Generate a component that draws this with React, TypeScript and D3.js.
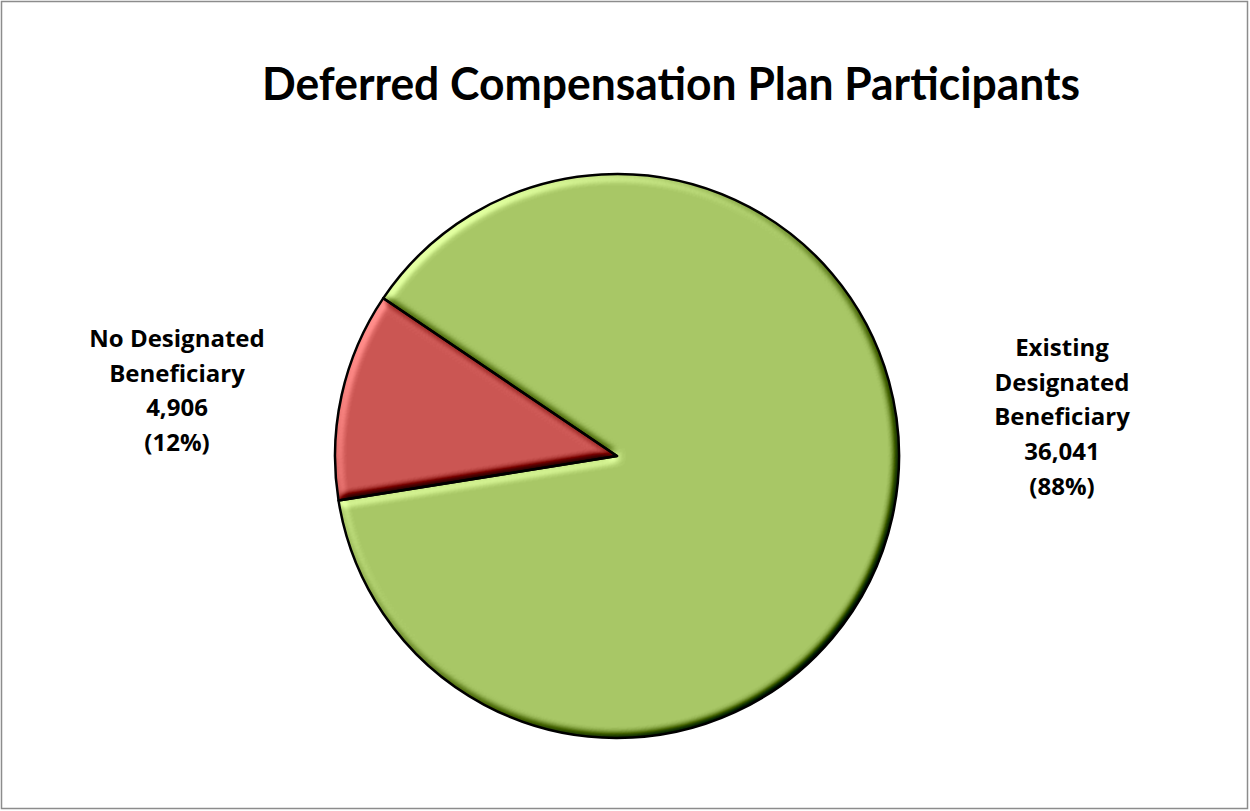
import React from "react";
import * as d3 from "d3";

const title = "Deferred Compensation Plan Participants";
const categories = ["No Designated Beneficiary", "Existing Designated Beneficiary"];
const labelLines = [["No Designated", "Beneficiary"], ["Existing", "Designated", "Beneficiary"]];
const values = [4906, 36041];
const colors = ["#CB5653", "#A8C766"];

const W = 1250;
const H = 811;
const CX = 617;
const CY = 456;
const R = 282;
const START_DEG = 260.9;

export default function App() {
  const total = d3.sum(values);
  const start = (START_DEG * Math.PI) / 180;
  const pie = d3
    .pie<number>()
    .sort(null)
    .value((d) => d)
    .startAngle(start)
    .endAngle(start + 2 * Math.PI);
  const arcs = pie(values);
  const arc = d3.arc<d3.PieArcDatum<number>>().innerRadius(0).outerRadius(R);
  const fmt = d3.format(",");

  const labelPos = [
    { x: 177, y: 347 },
    { x: 1062, y: 356 },
  ];
  const lineH = 34.7;

  return (
    <div style={{ position: "absolute", left: 0, top: 0 }}>
      <svg width={W} height={H} style={{ display: "block" }}>
        <defs>
          <filter id="bevel" x="-5%" y="-5%" width="110%" height="110%" colorInterpolationFilters="sRGB">
            <feGaussianBlur in="SourceAlpha" stdDeviation="4" result="blur" />
            <feDiffuseLighting in="blur" surfaceScale="6" diffuseConstant="1" lightingColor="#ffffff" result="light">
              <feDistantLight azimuth={225} elevation={50} />
            </feDiffuseLighting>
            <feComposite in="SourceGraphic" in2="light" operator="arithmetic" k1={0} k2={1} k3={1} k4={-0.766} result="lit" />
            <feComposite in="lit" in2="SourceAlpha" operator="in" />
          </filter>
        </defs>
        <rect x={0} y={0} width={W} height={H} fill="#ffffff" />
        <rect x={1.5} y={1.5} width={1246} height={807} fill="none" stroke="#8c8c8c" strokeWidth={1.5} />
        <text
          x={671}
          y={100}
          textAnchor="middle"
          fontFamily="Lato, 'Open Sans', sans-serif"
          fontWeight={700}
          fontSize={45}
          textLength={818}
          lengthAdjust="spacingAndGlyphs"
          fill="#000"
        >
          {title}
        </text>
        <g transform={`translate(${CX},${CY})`}>
          {arcs.map((a, i) => (
            <path key={"f" + i} d={arc(a) || ""} fill={colors[i]} filter="url(#bevel)" />
          ))}
          {arcs.map((a, i) => (
            <path key={"s" + i} d={arc(a) || ""} fill="none" stroke="#000" strokeWidth={2.5} strokeLinejoin="round" />
          ))}
        </g>
        {arcs.map((a, i) => {
          const lines = [
            ...labelLines[i],
            fmt(values[i]),
            `(${Math.round((values[i] / total) * 100)}%)`,
          ];
          return (
            <text
              key={"l" + i}
              textAnchor="middle"
              fontFamily="'Open Sans', sans-serif"
              fontWeight={700}
              fontSize={24}
              fill="#000"
              aria-label={categories[i]}
            >
              {lines.map((ln, j) => (
                <tspan key={j} x={labelPos[i].x} y={labelPos[i].y + j * lineH}>
                  {ln}
                </tspan>
              ))}
            </text>
          );
        })}
      </svg>
    </div>
  );
}
